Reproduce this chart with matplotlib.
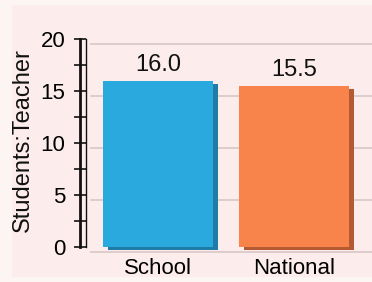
import matplotlib
matplotlib.use("Agg")
import matplotlib.pyplot as plt
import matplotlib.transforms as mtransforms
from matplotlib.patches import Rectangle
from matplotlib.ticker import MultipleLocator

categories = ["School", "National"]
values = [16.0, 15.5]
value_labels = ["16.0", "15.5"]
colors = ["#2aa9df", "#f8834b"]
shadow_colors = ["#1f7ca6", "#b35a32"]
yticks = [0, 5, 10, 15, 20]
ylabel = "Students:Teacher"

W, H = 372, 282
fig = plt.figure(figsize=(W / 100, H / 100), dpi=100)
fig.patch.set_facecolor("#fdf4f4")
fig.patches.append(Rectangle((12 / W, 5 / H), 1 - 12 / W, 1 - 10 / H,
                             transform=fig.transFigure, facecolor="#fdecec",
                             edgecolor="none", zorder=-5))

font = "Liberation Sans"

left, right, bottom, top = 80, 367, 282 - 247, 282 - 39
ax = fig.add_axes([left / W, bottom / H, (right - left) / W, (top - bottom) / H])
ax.set_zorder(2)
ax.set_facecolor("none")
ax.set_xlim(-0.574, 1.537)
ax.set_ylim(0, 20)

# back-wall gridlines offset (depth)
back = mtransforms.ScaledTranslation(5 / 100, -5 / 100, fig.dpi_scale_trans)
for t in yticks:
    ax.plot([0.02, 1.05], [t, t], transform=ax.get_yaxis_transform() + back,
            color="#d9c6c6", lw=1.2, clip_on=False, zorder=1)

# bars with shadow
shadow = mtransforms.ScaledTranslation(5 / 100, -3 / 100, fig.dpi_scale_trans)
xs = list(range(len(categories)))
sh = ax.bar(xs, values, width=0.809, color=shadow_colors, zorder=2,
            transform=ax.transData + shadow)
for p in sh:
    p.set_clip_on(False)
ax.bar(xs, values, width=0.809, color=colors, zorder=3)

for x, v, lab in zip(xs, values, value_labels):
    ax.annotate(lab, (x, v), xytext=(0, 3.5), textcoords="offset points",
                ha="center", va="bottom", fontsize=17, family=font, color="#111111")

# axis styling
for s in ["top", "right", "bottom"]:
    ax.spines[s].set_visible(False)
ax.spines["left"].set_linewidth(2)
ax.spines["left"].set_color("#111111")
ax.plot([0.02, 0.02], [0, 20], transform=ax.get_yaxis_transform(),
        color="#111111", lw=1, clip_on=False, zorder=4)
ax.set_yticks(yticks)
ax.yaxis.set_minor_locator(MultipleLocator(2.5))
ax.tick_params(axis="y", which="both", direction="inout", length=9, width=1.2,
               color="#111111", pad=6, labelsize=16)
for lbl in ax.get_yticklabels():
    lbl.set_family(font)
ax.set_xticks(xs)
ax.set_xticklabels(categories, family=font, fontsize=16)
ax.tick_params(axis="x", length=0, pad=8)

fig.text(23 / W, 0.505, ylabel, rotation=90, ha="center", va="center",
         fontsize=17, family=font, color="#111111")

fig.savefig("out.png", dpi=100, facecolor=fig.get_facecolor())
